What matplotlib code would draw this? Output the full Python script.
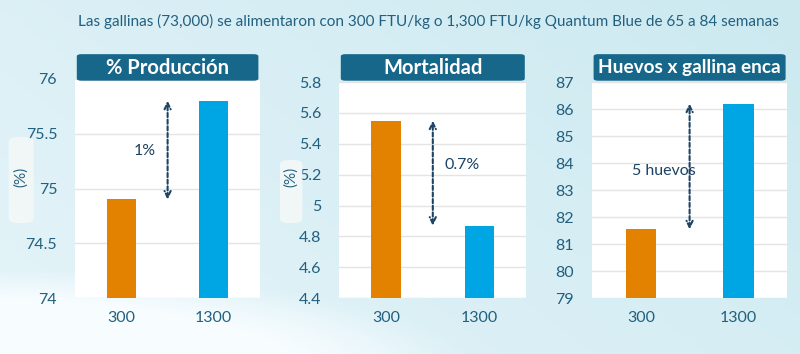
import numpy as np
import matplotlib.pyplot as plt
from matplotlib.patches import FancyBboxPatch

plt.rcParams['font.family'] = ['Lato', 'DejaVu Sans']

# data
categories = ['300', '1300']
produccion = [74.9, 75.8]
mortalidad = [5.55, 4.87]
huevos = [81.55, 86.2]

titulo = 'Las gallinas (73,000) se alimentaron con 300 FTU/kg o 1,300 FTU/kg Quantum Blue de 65 a 84 semanas'

TEXT = '#22607f'
ORANGE = '#e38200'
BLUE = '#00a6e4'
BANNER = '#17678a'
ARROW = '#1c4364'

fig = plt.figure(figsize=(8, 3.54), dpi=100)

# soft blue background with a white swoosh bottom-left
bg = fig.add_axes([0, 0, 1, 1], zorder=-10)
yy, xx = np.mgrid[0:1:200j, 0:1:400j]
grad = 0.6 + 0.35 * xx - 0.2 * yy
swoosh = np.clip(1.0 - ((xx - 0.0) ** 2 / 0.35 + (yy - 1.05) ** 2 / 0.08), 0, 1)
grad = np.clip(grad - swoosh * 0.9, 0, 1)
c_light = np.array([0.97, 0.99, 1.0])
c_blue = np.array([0.79, 0.91, 0.94])
img = c_light + (c_blue - c_light) * grad[..., None]
bg.imshow(img, extent=[0, 1, 0, 1], aspect='auto', origin='upper')
bg.set_xlim(0, 1)
bg.set_ylim(0, 1)
bg.axis('off')

fig.text(0.536, 0.94, titulo, ha='center', va='center', color=TEXT, fontsize=11.0)

panels = [
    # values, ylim, ticks, ticklabels, title, axes rect, pill rect, label, label pos, label ha
    (produccion, (74, 76), [74, 74.5, 75, 75.5, 76], ['74', '74.5', '75', '75.5', '76'],
     '% Producción', [0.094, 0.158, 0.231, 0.619], (0.011, 0.37, 0.031, 0.243),
     '1%', (0.25, 75.34), 'center'),
    (mortalidad, (4.4, 5.8), np.arange(4.4, 5.81, 0.2), ['4.4', '4.6', '4.8', '5', '5.2', '5.4', '5.6', '5.8'],
     'Mortalidad', [0.424, 0.158, 0.234, 0.61], (0.35, 0.37, 0.028, 0.178),
     '0.7%', (0.63, 5.26), 'left'),
    (huevos, (79, 87), range(79, 88), [str(v) for v in range(79, 88)],
     'Huevos x gallina enca', [0.74, 0.158, 0.244, 0.61], None,
     '5 huevos', (0.24, 83.7), 'center'),
]

for vals, ylim, ticks, tlabels, name, rect, pill, label, lpos, lha in panels:
    ax = fig.add_axes(rect)
    ax.set_facecolor('white')
    ax.bar(range(len(categories)), [v - ylim[0] for v in vals], bottom=ylim[0],
           color=[ORANGE, BLUE], width=0.31, zorder=3)
    ax.set_xlim(-0.5, 1.5)
    ax.set_ylim(*ylim)
    ax.set_yticks(list(ticks))
    ax.set_yticklabels(tlabels)
    ax.set_xticks(range(len(categories)))
    ax.set_xticklabels(categories)
    ax.grid(axis='y', color='#e4e4e4', lw=1, zorder=0)
    for s in ax.spines.values():
        s.set_visible(False)
    ax.tick_params(length=0, colors=TEXT, labelsize=11.5)
    ax.tick_params(axis='y', pad=13)
    ax.tick_params(axis='x', pad=9)

    lo, hi = min(vals), max(vals)
    ax.annotate('', xy=(0.5, hi), xytext=(0.5, lo),
                arrowprops=dict(arrowstyle='<->', color=ARROW, lw=1.5, ls=(0, (2, 1.2)),
                                mutation_scale=11, shrinkA=0, shrinkB=0), zorder=4)
    ax.text(lpos[0], lpos[1], label, ha=lha, va='center', color=ARROW, fontsize=11.5, zorder=5)

    # title banner above the white area
    x0, w = rect[0], rect[2]
    fig.patches.append(FancyBboxPatch((x0 + 0.002, 0.772), w - 0.004, 0.075,
                                      boxstyle='round,pad=0,rounding_size=0.006',
                                      transform=fig.transFigure, fc=BANNER, ec='none'))
    fig.text(x0 + w / 2, 0.809, name, ha='center', va='center', color='white',
             fontsize=14.5 if len(name) < 15 else 13.7, fontweight='bold')

    if pill is not None:
        fig.patches.append(FancyBboxPatch(pill[:2], pill[2], pill[3],
                                          boxstyle='round,pad=0,rounding_size=0.012',
                                          transform=fig.transFigure, fc='#f4f8f8', ec='none',
                                          alpha=0.9))
        fig.text(pill[0] + pill[2] / 2, 0.5, '(%)', rotation=90, ha='center', va='center',
                 color=TEXT, fontsize=11)

fig.savefig('out.png', dpi=100)
